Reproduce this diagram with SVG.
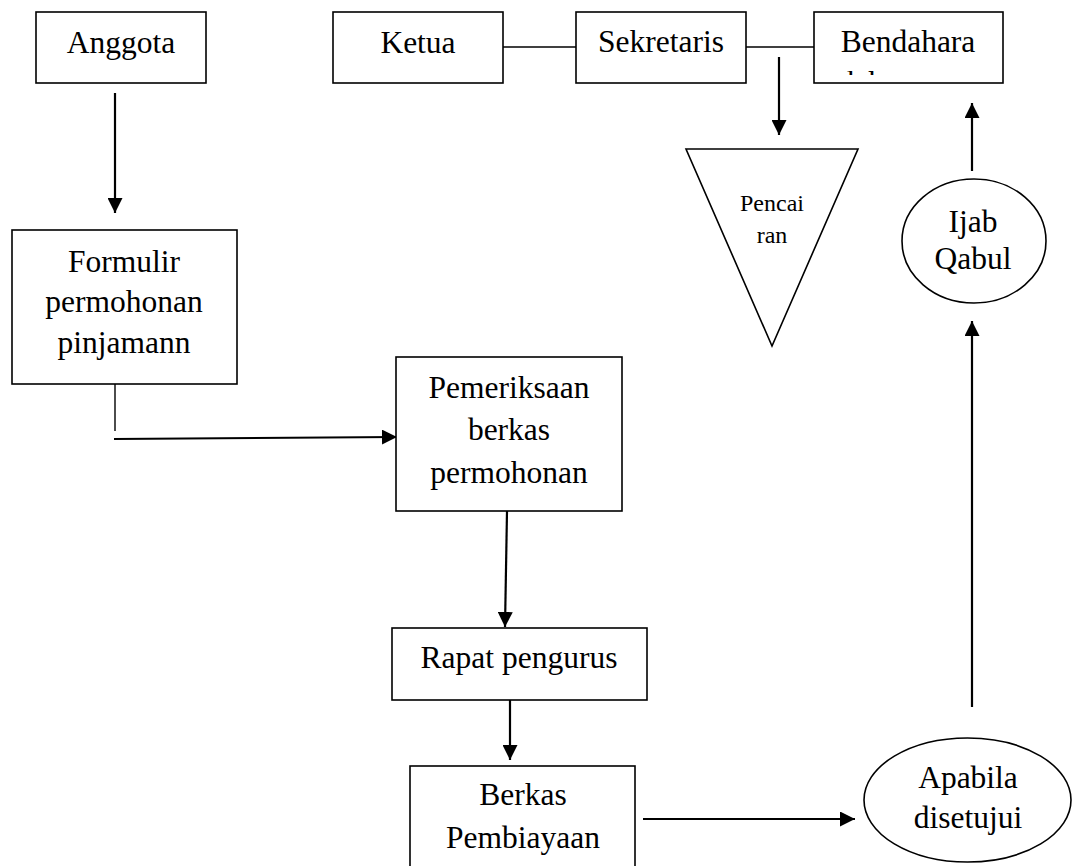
<svg xmlns="http://www.w3.org/2000/svg" width="1078" height="866" viewBox="0 0 1078 866">
<style>
.box{fill:#fff;stroke:#000;stroke-width:1.6}
.t{font-family:"Liberation Serif","Times New Roman",serif;font-size:31.5px;fill:#000;text-anchor:middle}
.ts{font-family:"Liberation Serif","Times New Roman",serif;font-size:24px;fill:#000;text-anchor:middle}
.c{stroke:#000;stroke-width:2.2;fill:none}
.cl{stroke:#000;stroke-width:1.4;fill:none}
</style>
<defs>
<marker id="ah" viewBox="0 0 15 15" refX="15" refY="7.5" markerWidth="15" markerHeight="15" markerUnits="userSpaceOnUse" orient="auto">
<path d="M0,0 L15,7.5 L0,15 z" fill="#000"/>
</marker>
<clipPath id="cut"><rect x="815" y="71" width="187" height="4"/></clipPath>
</defs>
<rect width="1078" height="866" fill="#fff"/>
<g id="connectors">
<line class="c" x1="115" y1="93" x2="115" y2="213" marker-end="url(#ah)"/>
<line class="cl" x1="115" y1="384" x2="115" y2="431"/>
<line class="c" x1="114" y1="439" x2="397" y2="437" stroke-width="3" marker-end="url(#ah)"/>
<line class="c" x1="507" y1="511" x2="505" y2="627" marker-end="url(#ah)"/>
<line class="c" x1="510" y1="697" x2="510" y2="760" marker-end="url(#ah)"/>
<line class="c" x1="643" y1="819" x2="855" y2="819" marker-end="url(#ah)"/>
<line class="c" x1="972" y1="707" x2="972" y2="321" marker-end="url(#ah)"/>
<line class="c" x1="972" y1="171" x2="972" y2="103" marker-end="url(#ah)"/>
<line class="cl" x1="503" y1="47" x2="576" y2="47"/>
<line class="cl" x1="746" y1="47" x2="814" y2="47"/>
<line class="c" x1="779" y1="57" x2="779" y2="135" marker-end="url(#ah)"/>
</g>
<g id="anggota">
<rect class="box" x="36" y="12" width="170" height="71"/>
<text class="t" x="121" y="53">Anggota</text>
</g>
<g id="ketua">
<rect class="box" x="333" y="12" width="170" height="71"/>
<text class="t" x="418" y="53">Ketua</text>
</g>
<g id="sekretaris">
<rect class="box" x="576" y="12" width="170" height="71"/>
<text class="t" x="661" y="52">Sekretaris</text>
</g>
<g id="bendahara">
<rect class="box" x="814" y="12" width="189" height="71"/>
<text class="t" x="908" y="52">Bendahara</text>
<text class="t" x="855" y="93" text-anchor="start" clip-path="url(#cut)">Bendahara</text>
</g>
<g id="pencairan">
<polygon class="box" points="686,149 858,149 772,346"/>
<text class="ts" x="772" y="211">Pencai</text>
<text class="ts" x="772" y="243">ran</text>
</g>
<g id="ijab-qabul">
<ellipse class="box" cx="974" cy="241" rx="72" ry="62"/>
<text class="t" x="973" y="232">Ijab</text>
<text class="t" x="973" y="269">Qabul</text>
</g>
<g id="formulir">
<rect class="box" x="12" y="230" width="225" height="154"/>
<text class="t" x="124" y="272">Formulir</text>
<text class="t" x="124" y="312">permohonan</text>
<text class="t" x="124" y="353">pinjamann</text>
</g>
<g id="pemeriksaan">
<rect class="box" x="396" y="357" width="226" height="154"/>
<text class="t" x="509" y="398">Pemeriksaan</text>
<text class="t" x="509" y="440">berkas</text>
<text class="t" x="509" y="483">permohonan</text>
</g>
<g id="rapat">
<rect class="box" x="392" y="628" width="255" height="72"/>
<text class="t" x="519" y="668">Rapat pengurus</text>
</g>
<g id="berkas">
<rect class="box" x="410" y="766" width="225" height="120"/>
<text class="t" x="523" y="805">Berkas</text>
<text class="t" x="523" y="848">Pembiayaan</text>
</g>
<g id="apabila">
<ellipse class="box" cx="967.5" cy="800" rx="103.5" ry="62"/>
<text class="t" x="968" y="788">Apabila</text>
<text class="t" x="968" y="828">disetujui</text>
</g>
</svg>
